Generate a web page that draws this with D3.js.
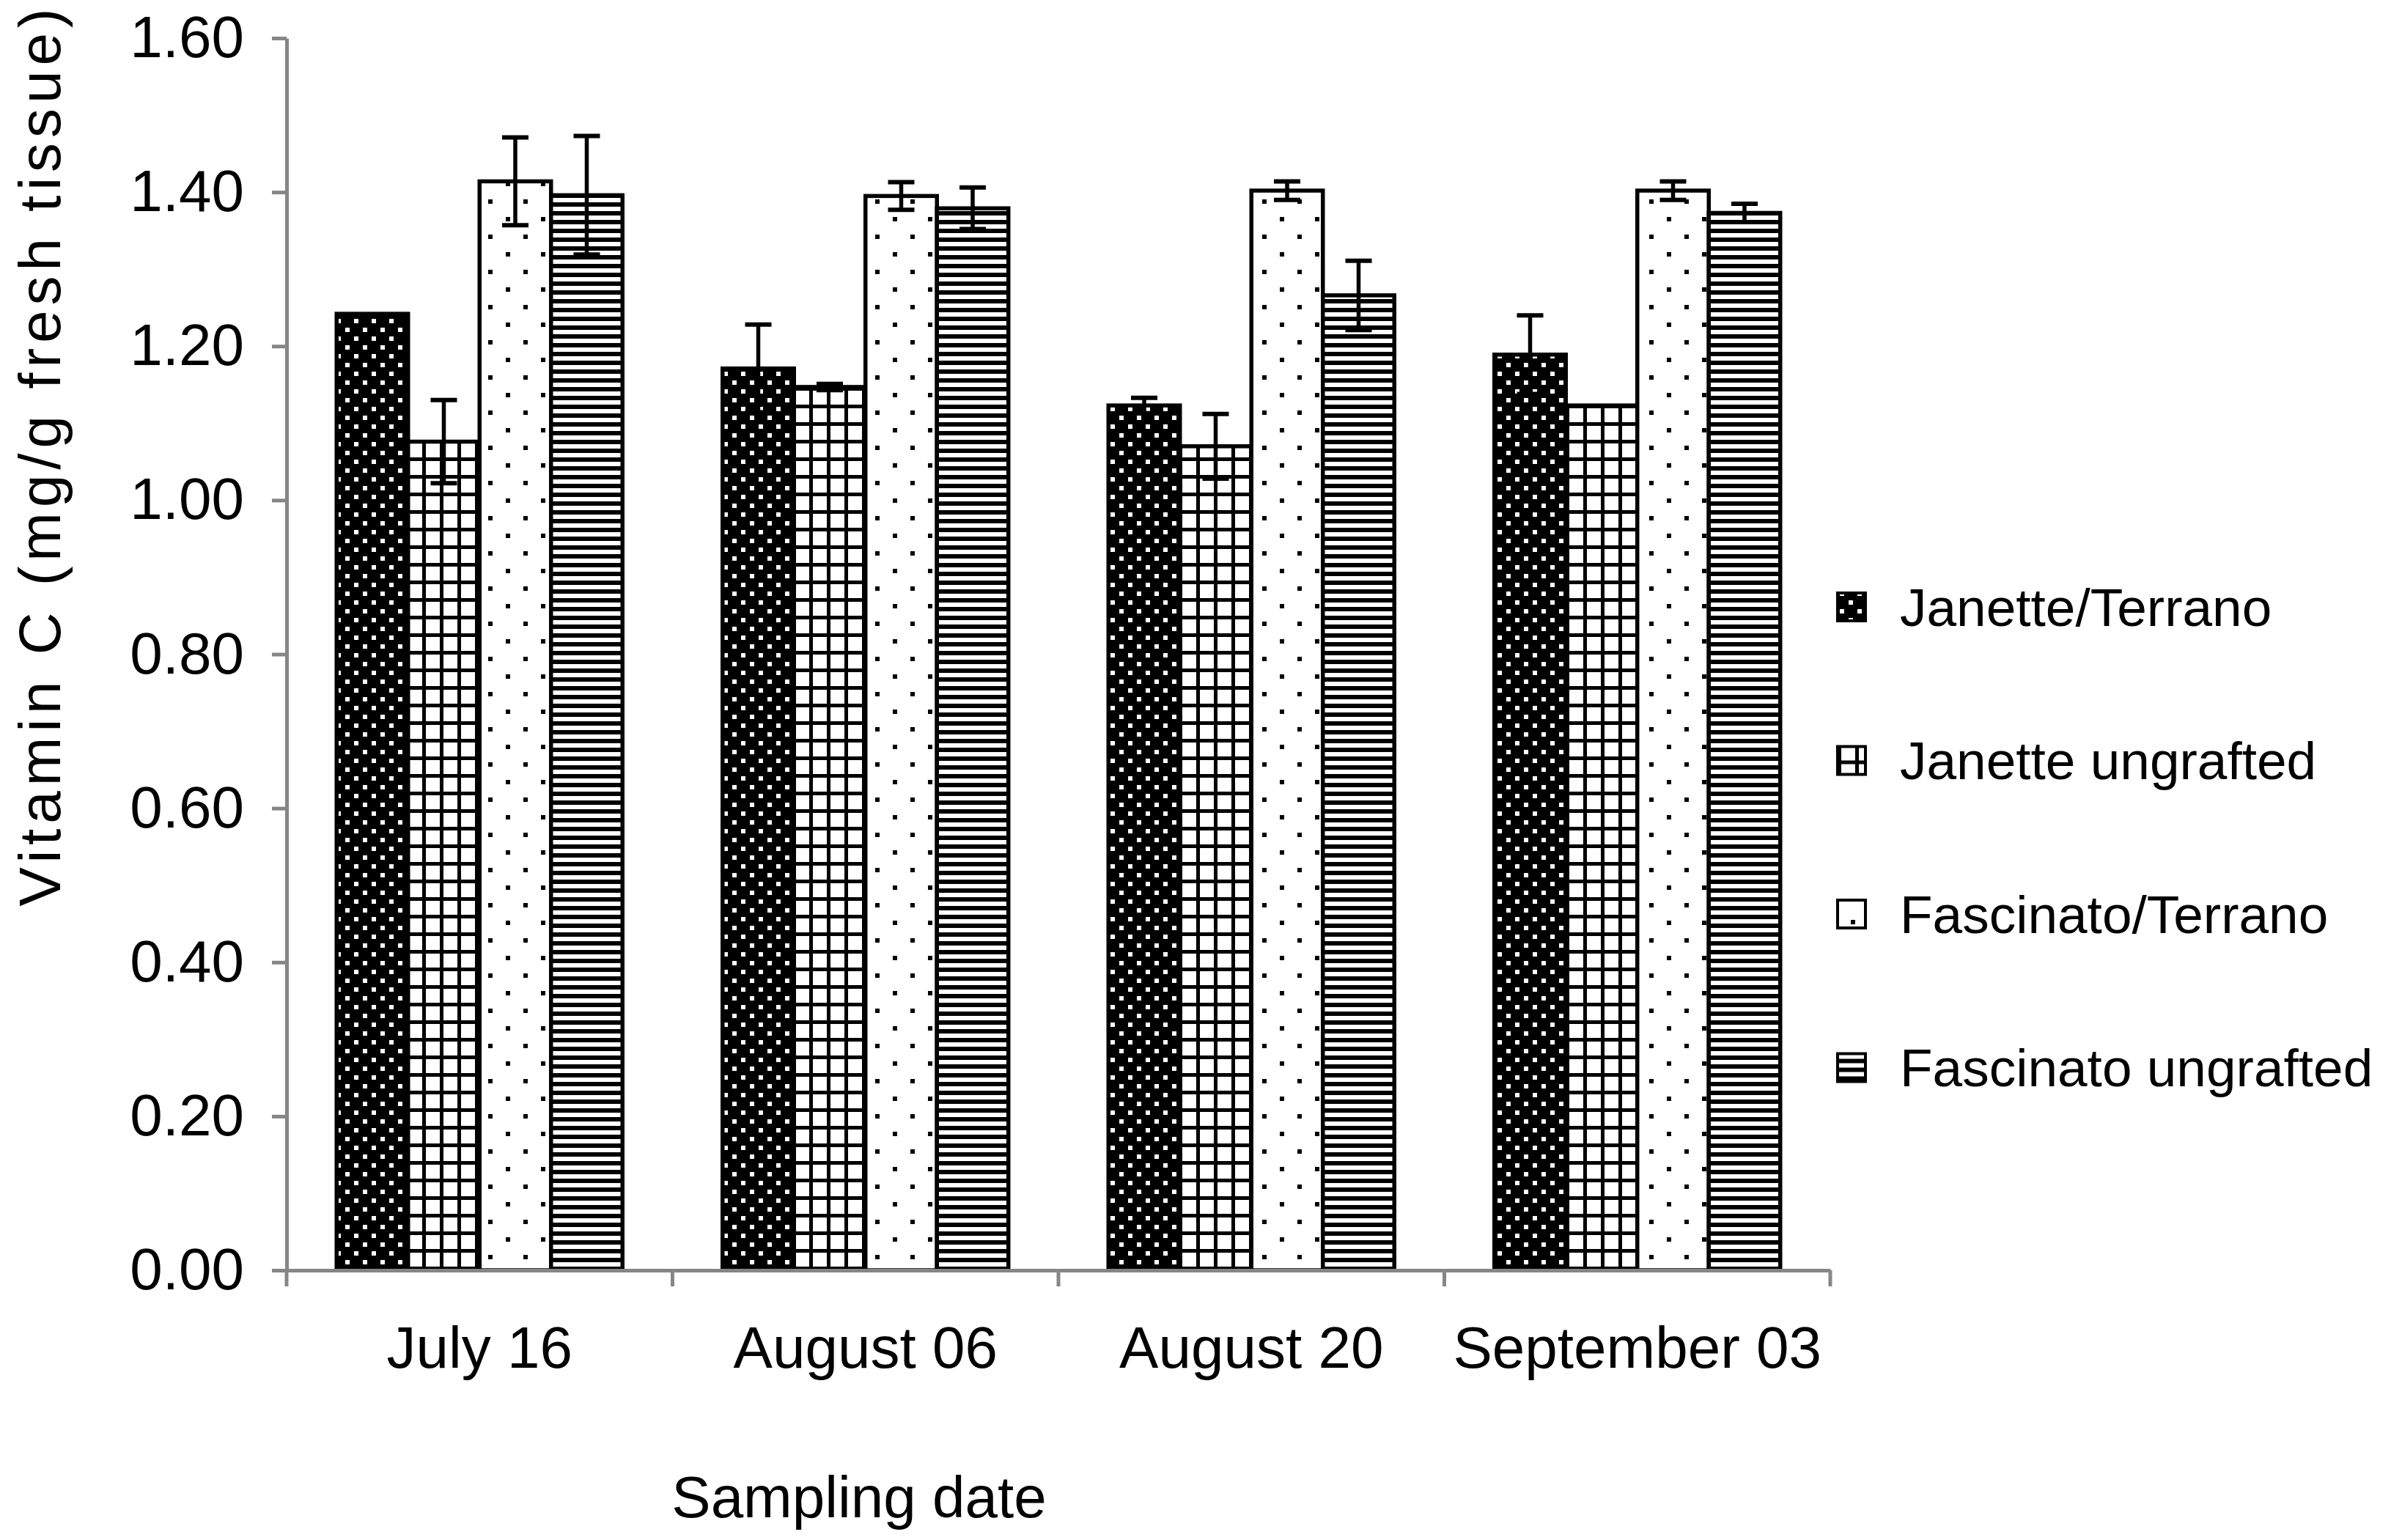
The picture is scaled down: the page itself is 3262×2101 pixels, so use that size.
<!DOCTYPE html>
<html>
<head>
<meta charset="utf-8">
<script src="https://cdn.jsdelivr.net/npm/d3@7"></script>
<style>
  body { margin: 0; background: #fff; }
  text { font-family: "Liberation Sans", Arial, sans-serif; fill: #000; }
</style>
</head>
<body>
<div id="chart"></div>
<script>
const dates = ["July 16", "August 06", "August 20", "September 03"];
const seriesNames = ["Janette/Terrano", "Janette ungrafted", "Fascinato/Terrano", "Fascinato ungrafted"];

const janetteTerrano = [1.242, 1.171, 1.123, 1.189];
const janetteUngrafted = [1.076, 1.147, 1.070, 1.123];
const fascinatoTerrano = [1.414, 1.395, 1.402, 1.402];
const fascinatoUngrafted = [1.396, 1.379, 1.266, 1.373];

const janetteTerranoErr = [0, 0.057, 0.010, 0.051];
const janetteUngraftedErr = [0.054, 0.004, 0.042, 0];
const fascinatoTerranoErr = [0.057, 0.018, 0.012, 0.012];
const fascinatoUngraftedErr = [0.077, 0.027, 0.045, 0.012];

const yTicks = [0, 0.2, 0.4, 0.6, 0.8, 1.0, 1.2, 1.4, 1.6];

const values = [janetteTerrano, janetteUngrafted, fascinatoTerrano, fascinatoUngrafted];
const errors = [janetteTerranoErr, janetteUngraftedErr, fascinatoTerranoErr, fascinatoUngraftedErr];

const bars = [];
seriesNames.forEach((s, si) => {
  dates.forEach((d, di) => {
    bars.push({ series: s, si: si, date: d, value: values[si][di], err: errors[si][di] });
  });
});

const width = 3262;
const height = 2101;
const plotLeft = 391, plotRight = 2497, plotTop = 52, plotBottom = 1733;
const axisColor = '#868686';

const svg = d3.select('#chart')
  .append('svg')
    .attr('width', width)
    .attr('height', height)
    .attr('viewBox', [0, 0, width, height]);

// fill patterns, one per series
const defs = svg.append('defs');

const p0 = defs.append('pattern')
  .attr('id', 'pat0').attr('patternUnits', 'userSpaceOnUse')
  .attr('width', 24).attr('height', 24);
p0.append('rect').attr('width', 24).attr('height', 24).attr('fill', '#000');
p0.append('rect').attr('x', 3).attr('y', 3).attr('width', 6).attr('height', 6).attr('fill', '#fff');
p0.append('rect').attr('x', 15).attr('y', 15).attr('width', 6).attr('height', 6).attr('fill', '#fff');

const p1 = defs.append('pattern')
  .attr('id', 'pat1').attr('patternUnits', 'userSpaceOnUse')
  .attr('width', 24).attr('height', 24);
p1.append('rect').attr('width', 24).attr('height', 24).attr('fill', '#fff');
p1.append('rect').attr('x', 0).attr('y', 0).attr('width', 5).attr('height', 24).attr('fill', '#000');
p1.append('rect').attr('x', 0).attr('y', 0).attr('width', 24).attr('height', 5).attr('fill', '#000');

const p2 = defs.append('pattern')
  .attr('id', 'pat2').attr('patternUnits', 'userSpaceOnUse')
  .attr('width', 48).attr('height', 48);
p2.append('rect').attr('width', 48).attr('height', 48).attr('fill', '#fff');
p2.append('rect').attr('x', 18).attr('y', 8).attr('width', 6).attr('height', 6).attr('fill', '#000');
p2.append('rect').attr('x', 42).attr('y', 32).attr('width', 6).attr('height', 6).attr('fill', '#000');

const p3 = defs.append('pattern')
  .attr('id', 'pat3').attr('patternUnits', 'userSpaceOnUse')
  .attr('width', 12).attr('height', 12);
p3.append('rect').attr('width', 12).attr('height', 12).attr('fill', '#fff');
p3.append('rect').attr('x', 0).attr('y', 0).attr('width', 12).attr('height', 6).attr('fill', '#000');

const fillFor = si => 'url(#pat' + si + ')';

const x = d3.scaleBand()
  .domain(dates)
  .range([plotLeft, plotRight])
  .padding(0);

const xInner = d3.scaleBand()
  .domain(seriesNames)
  .range([0, x.bandwidth()])
  .paddingInner(0)
  .paddingOuter(0.7);

const y = d3.scaleLinear()
  .domain([0, 1.6])
  .range([plotBottom, plotTop]);

// bars
svg.append('g')
  .selectAll('rect')
  .data(bars)
  .join('rect')
    .attr('x', d => x(d.date) + xInner(d.series))
    .attr('y', d => y(d.value))
    .attr('width', xInner.bandwidth())
    .attr('height', d => y(0) - y(d.value))
    .attr('fill', d => fillFor(d.si))
    .attr('stroke', '#000')
    .attr('stroke-width', 5.5);

// error bars
const capHalf = 18;
const errG = svg.append('g')
  .selectAll('g')
  .data(bars.filter(d => d.err > 0))
  .join('g')
    .attr('transform', d => `translate(${x(d.date) + xInner(d.series) + xInner.bandwidth() / 2},0)`);

errG.append('line')
  .attr('y1', d => y(d.value + d.err))
  .attr('y2', d => y(d.value - d.err))
  .attr('stroke', '#000')
  .attr('stroke-width', 5.5);
errG.append('line')
  .attr('x1', -capHalf).attr('x2', capHalf)
  .attr('y1', d => y(d.value + d.err))
  .attr('y2', d => y(d.value + d.err))
  .attr('stroke', '#000')
  .attr('stroke-width', 6);
errG.append('line')
  .attr('x1', -capHalf).attr('x2', capHalf)
  .attr('y1', d => y(d.value - d.err))
  .attr('y2', d => y(d.value - d.err))
  .attr('stroke', '#000')
  .attr('stroke-width', 6);

// y axis
const yAxis = svg.append('g')
  .attr('transform', `translate(${plotLeft},0)`)
  .call(d3.axisLeft(y)
    .tickValues(yTicks)
    .tickFormat(d3.format('.2f'))
    .tickSize(20)
    .tickSizeOuter(0)
    .tickPadding(38));
yAxis.select('.domain').attr('stroke', axisColor).attr('stroke-width', 5);
yAxis.selectAll('.tick line').attr('stroke', axisColor).attr('stroke-width', 5);
yAxis.selectAll('.tick text')
  .attr('font-family', '"Liberation Sans", Arial, sans-serif')
  .attr('font-size', 80)
  .attr('fill', '#000');

// x axis: labels centred, ticks at category boundaries
const xAxis = svg.append('g')
  .attr('transform', `translate(0,${plotBottom})`)
  .call(d3.axisBottom(x).tickSize(0).tickPadding(76));
xAxis.select('.domain').attr('stroke', axisColor).attr('stroke-width', 5);
xAxis.selectAll('.tick text')
  .attr('font-family', '"Liberation Sans", Arial, sans-serif')
  .attr('font-size', 80)
  .attr('fill', '#000');

const boundaries = dates.map(d => x(d)).concat([x.range()[1]]);
xAxis.selectAll('.bound')
  .data(boundaries)
  .join('line')
    .attr('class', 'bound')
    .attr('x1', d => d).attr('x2', d => d)
    .attr('y1', 0).attr('y2', 22)
    .attr('stroke', axisColor)
    .attr('stroke-width', 5);

// axis titles
svg.append('text')
  .attr('transform', 'translate(82,624) rotate(-90)')
  .attr('text-anchor', 'middle')
  .attr('font-size', 80)
  .attr('textLength', 1225)
  .attr('lengthAdjust', 'spacing')
  .text('Vitamin C (mg/g fresh  tissue)');

svg.append('text')
  .attr('x', 1172)
  .attr('y', 2070)
  .attr('text-anchor', 'middle')
  .attr('font-size', 80)
  .text('Sampling date');

// legend
const legend = svg.append('g')
  .selectAll('g')
  .data(seriesNames)
  .join('g')
    .attr('transform', (d, i) => `translate(2507,${828 + i * 209.5})`);

legend.append('rect')
  .attr('x', 0).attr('y', -19)
  .attr('width', 38).attr('height', 38)
  .attr('fill', (d, i) => fillFor(i))
  .attr('stroke', '#000')
  .attr('stroke-width', 4);

legend.append('text')
  .attr('x', 85)
  .attr('y', 0)
  .attr('dy', '0.35em')
  .attr('font-size', 73)
  .text(d => d);
</script>
</body>
</html>
